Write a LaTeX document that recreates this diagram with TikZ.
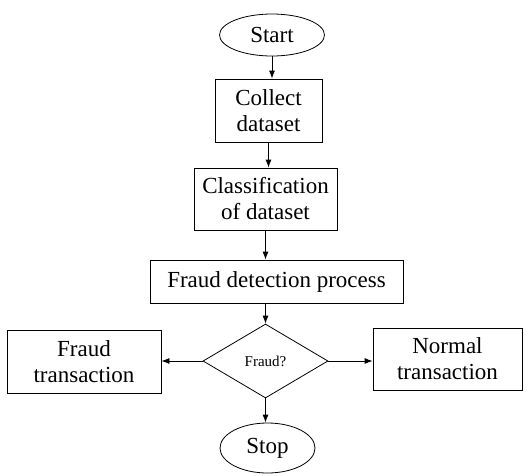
\documentclass[tikz,border=0pt]{standalone}
\usepackage{fontspec}
\setmainfont{Liberation Serif}
\usetikzlibrary{shapes.geometric,arrows.meta}

\begin{document}
\begin{tikzpicture}[x=1pt, y=-1pt, line width=0.8pt,
    box/.style={draw, rectangle, align=center, inner sep=2pt, font=\fontsize{23}{26}\selectfont},
    term/.style={draw, ellipse, inner sep=0pt, font=\fontsize{23}{26}\selectfont},
    decision/.style={draw, diamond, inner sep=0pt, font=\fontsize{15}{17}\selectfont},
    flow/.style={-{Latex[length=8pt, width=6pt]}}]
        \useasboundingbox (0,0) rectangle (531,475);

        % Terminals
        \node[term, minimum width=105pt, minimum height=42pt] (start) at (272,35) {Start};
        \node[term, minimum width=95pt, minimum height=50pt] (stop) at (267.5,448) {Stop};

        % Process boxes
        \node[box, minimum width=107pt, minimum height=63pt] (collect) at (268.5,110.5) {Collect\\dataset};
        \node[box, minimum width=143pt, minimum height=62pt] (classify) at (265.5,199) {Classification\\of dataset};
        \node[box, minimum width=253pt, minimum height=43pt] (detect) at (276.5,281.5) {Fraud detection process};

        % Decision
        \node[decision, minimum width=125pt, minimum height=74pt] (isfraud) at (265.5,361) {Fraud?};

        % Outcomes
        \node[box, minimum width=154pt, minimum height=63pt] (fraud) at (84,361.5) {Fraud\\transaction};
        \node[box, minimum width=149pt, minimum height=62pt] (normal) at (447.5,359) {Normal\\transaction};

        % Arrows
        \draw[flow] (start.south) -- (start.south |- collect.north);
        \draw[flow] (collect.south) -- (collect.south |- classify.north);
        \draw[flow] (classify.south) -- (classify.south |- detect.north);
        \draw[flow] (isfraud.north |- detect.south) -- (isfraud.north);
        \draw[flow] (isfraud.west) -- (fraud.east |- isfraud.west);
        \draw[flow] (isfraud.east) -- (normal.west |- isfraud.east);
        \draw[flow] (isfraud.south) -- (isfraud.south |- stop.north);
    \end{tikzpicture}
\end{document}
